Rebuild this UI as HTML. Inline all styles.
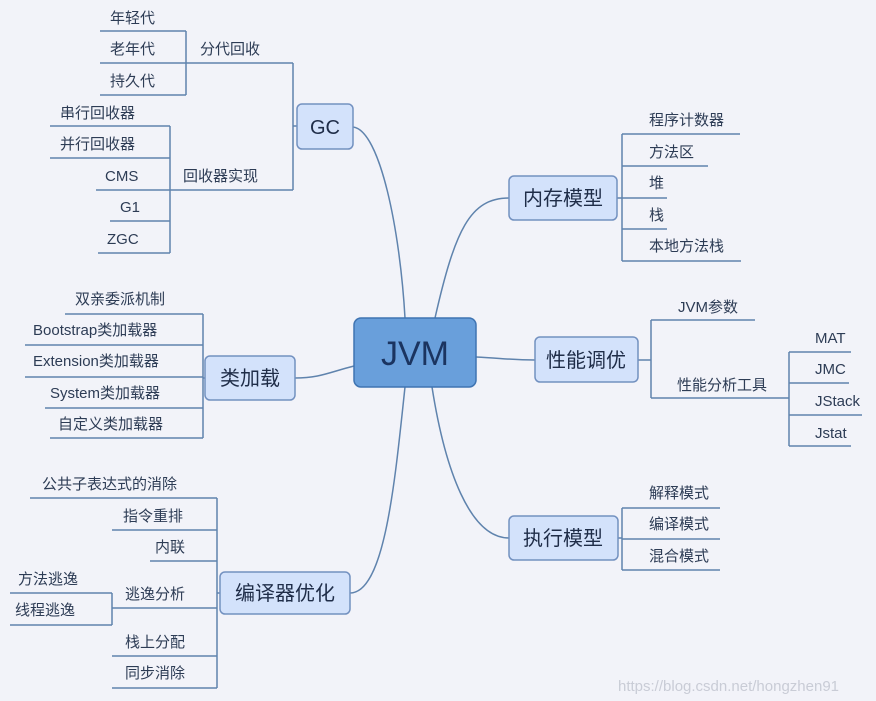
<!DOCTYPE html>
<html><head><meta charset="utf-8"><style>
html,body{margin:0;padding:0;background:#f2f3f9;}
svg{display:block;font-family:"Liberation Sans","Noto Sans CJK SC",sans-serif;}
.l{fill:none;stroke:#5f83ad;stroke-width:1.5;}
.t{font-size:15px;fill:#2d3c55;}
.b{fill:#d3e2fb;stroke:#7391c0;stroke-width:1.5;}
.bt{font-size:20px;fill:#1f2d48;text-anchor:middle;}
</style></head><body>
<svg width="876" height="701" viewBox="0 0 876 701">
<path class="l" d="M405,318 C400,230 380,130 353,127"/>
<path class="l" d="M435,318 C455,230 470,198 509,198"/>
<path class="l" d="M354,366 C330,372 320,378 295,378"/>
<path class="l" d="M476,357 C500,358 510,360 535,360"/>
<path class="l" d="M432,387 C445,470 470,538 509,538"/>
<path class="l" d="M405,387 C395,480 385,593 350,593"/>
<path class="l" d="M297,126 H293 M293,63 V190 M186,63 H293 M96,190 H293"/>
<path class="l" d="M186,31 V95 M100,31 H186 M100,63 H186 M100,95 H186"/>
<path class="l" d="M170,126 V253 M50,126 H170 M50,158 H170 M110,221 H170 M98,253 H170"/>
<text class="t" x="110" y="23">年轻代</text>
<text class="t" x="110" y="54">老年代</text>
<text class="t" x="110" y="86">持久代</text>
<text class="t" x="200" y="54">分代回收</text>
<text class="t" x="60" y="118">串行回收器</text>
<text class="t" x="60" y="149">并行回收器</text>
<text class="t" x="105" y="181">CMS</text>
<text class="t" x="183" y="181">回收器实现</text>
<text class="t" x="120" y="212">G1</text>
<text class="t" x="107" y="244">ZGC</text>
<path class="l" d="M617,198 H622 M622,134 V261 M622,134 H740 M622,166 H708 M622,198 H667 M622,229 H667 M622,261 H741"/>
<text class="t" x="649" y="125">程序计数器</text>
<text class="t" x="649" y="157">方法区</text>
<text class="t" x="649" y="188">堆</text>
<text class="t" x="649" y="220">栈</text>
<text class="t" x="649" y="251">本地方法栈</text>
<path class="l" d="M638,360 H651 M651,320 V398 M651,320 H755 M651,398 H789 M789,352 V446 M789,352 H851 M789,383 H849 M789,415 H862 M789,446 H851"/>
<text class="t" x="678" y="312">JVM参数</text>
<text class="t" x="677" y="390">性能分析工具</text>
<text class="t" x="815" y="343">MAT</text>
<text class="t" x="815" y="374">JMC</text>
<text class="t" x="815" y="406">JStack</text>
<text class="t" x="815" y="438">Jstat</text>
<path class="l" d="M618,538 H622 M622,508 V570 M622,508 H720 M622,539 H720 M622,570 H720"/>
<text class="t" x="649" y="498">解释模式</text>
<text class="t" x="649" y="529">编译模式</text>
<text class="t" x="649" y="561">混合模式</text>
<path class="l" d="M205,378 H203 M203,314 V438 M65,314 H203 M25,345 H203 M25,377 H203 M45,408 H203 M50,438 H203"/>
<text class="t" x="75" y="304">双亲委派机制</text>
<text class="t" x="33" y="335">Bootstrap类加载器</text>
<text class="t" x="33" y="366">Extension类加载器</text>
<text class="t" x="50" y="398">System类加载器</text>
<text class="t" x="58" y="429">自定义类加载器</text>
<path class="l" d="M220,593 H217 M217,498 V688 M30,498 H217 M112,530 H217 M150,561 H217 M112,608 H217 M112,656 H217 M112,688 H217"/>
<path class="l" d="M112,593 V625 M10,593 H112 M10,625 H112"/>
<text class="t" x="42" y="489">公共子表达式的消除</text>
<text class="t" x="123" y="521">指令重排</text>
<text class="t" x="155" y="552">内联</text>
<text class="t" x="125" y="599">逃逸分析</text>
<text class="t" x="18" y="584">方法逃逸</text>
<text class="t" x="15" y="615">线程逃逸</text>
<text class="t" x="125" y="647">栈上分配</text>
<text class="t" x="125" y="678">同步消除</text>
<rect x="354" y="318" width="122" height="69" rx="7" fill="#699fdb" stroke="#3f74b2" stroke-width="1.5"/>
<text x="415" y="365" font-size="34" fill="#1b3460" text-anchor="middle">JVM</text>
<rect class="b" x="297" y="104" width="56" height="45" rx="5"/><text class="bt" x="325" y="134">GC</text>
<rect class="b" x="509" y="176" width="108" height="44" rx="5"/><text class="bt" x="563" y="205">内存模型</text>
<rect class="b" x="535" y="337" width="103" height="45" rx="5"/><text class="bt" x="586" y="367">性能调优</text>
<rect class="b" x="205" y="356" width="90" height="44" rx="5"/><text class="bt" x="250" y="385">类加载</text>
<rect class="b" x="509" y="516" width="109" height="44" rx="5"/><text class="bt" x="563" y="545">执行模型</text>
<rect class="b" x="220" y="572" width="130" height="42" rx="5"/><text class="bt" x="285" y="600">编译器优化</text>
<text x="618" y="691" font-size="15" fill="#c9ccd6">https://blog.csdn.net/hongzhen91</text>
</svg>
</body></html>
